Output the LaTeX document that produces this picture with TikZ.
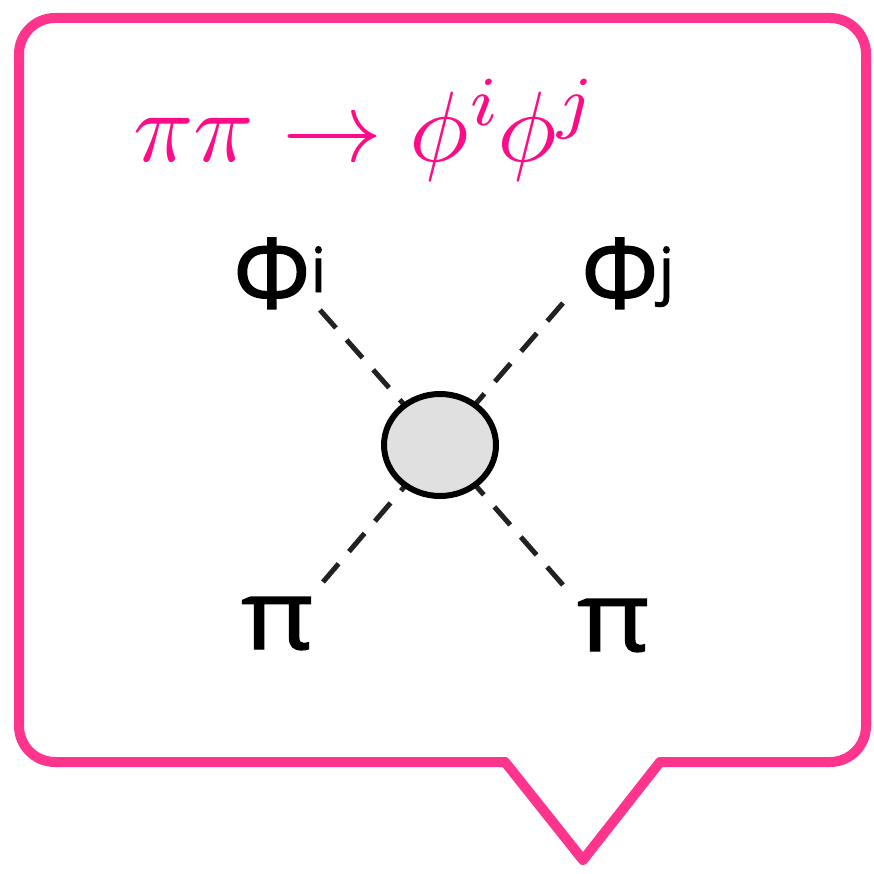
\documentclass[tikz,border=0pt]{standalone}
\usepackage{fontspec}
\newfontfamily\labfont[FakeBold=1.3]{Open Sans}
\usetikzlibrary{shapes.geometric,decorations.pathmorphing}
\definecolor{bubblepink}{RGB}{255,52,140}
\definecolor{titlepink}{RGB}{255,10,135}
\definecolor{blobgray}{RGB}{224,224,224}
\definecolor{dashgray}{RGB}{34,34,34}
\begin{document}
\begin{tikzpicture}[x=1pt,y=-1pt,
  bubble/.style={draw=bubblepink,line width=10pt,line join=round,line cap=round},
  rough/.style={draw=bubblepink,line width=2.5pt,line join=round,decorate,decoration={random steps,segment length=3pt,amplitude=3.2pt}},
  leg/.style={draw=dashgray,line width=5pt,dash pattern=on 24pt off 16pt},
  blob/.style={ellipse,draw=black,line width=6pt,fill=blobgray,minimum width=112pt,minimum height=102pt,inner sep=0pt},
  lab/.style={font=\labfont\fontsize{97}{97}\selectfont,inner sep=0pt,anchor=base west},
  titlestyle/.style={text=titlepink,inner sep=0pt,anchor=base west}]
\useasboundingbox (0,0) rectangle (874,874);
\fill[white] (0,0) rectangle (874,874);
% speech bubble
\path[bubble] (583,860) -- (505,762) -- (470,762) [rounded corners=36] -- (19,762) -- (19,18) -- (866,18) -- (866,762) -- (720,762) [sharp corners] -- (660,762) -- cycle;
\path[rough,opacity=0.8] (583,860) -- (505,762) -- (470,762) [rounded corners=36] -- (19,762) -- (19,18) -- (866,18) -- (866,762) -- (720,762) [sharp corners] -- (660,762) -- cycle;
\path[rough,opacity=0.6,decoration={random steps,segment length=5pt,amplitude=3.5pt}] (583,860) -- (505,762) -- (470,762) [rounded corners=36] -- (19,762) -- (19,18) -- (866,18) -- (866,762) -- (720,762) [sharp corners] -- (660,762) -- cycle;
% title
\node[titlestyle] (title) at (133,162) {\scalebox{10}{$\pi\pi\rightarrow\phi^i\mkern-1mu\phi^j$}};
% legs
\coordinate (cc) at (440,445);
\coordinate (ul) at (320,310);
\coordinate (ur) at (563,303);
\coordinate (ll) at (323,582);
\coordinate (lr) at (563,585);
\draw[leg] (ul) -- (cc);
\draw[leg] (ur) -- (cc);
\draw[leg] (ll) -- (cc);
\draw[leg] (lr) -- (cc);
\node[blob] (c) at (cc) {};
% labels
\node[lab] (phii) at (233,308) {Φ\raisebox{16pt}{\fontsize{62}{62}\selectfont i}};
\node[lab] (phij) at (581,308) {Φ\raisebox{16pt}{\fontsize{62}{62}\selectfont j}};
\node[lab] (pil) at (241,649) {\scalebox{1.15}[1]{π}};
\node[lab] (pir) at (577,651) {\scalebox{1.15}[1]{π}};
\end{tikzpicture}
\end{document}
